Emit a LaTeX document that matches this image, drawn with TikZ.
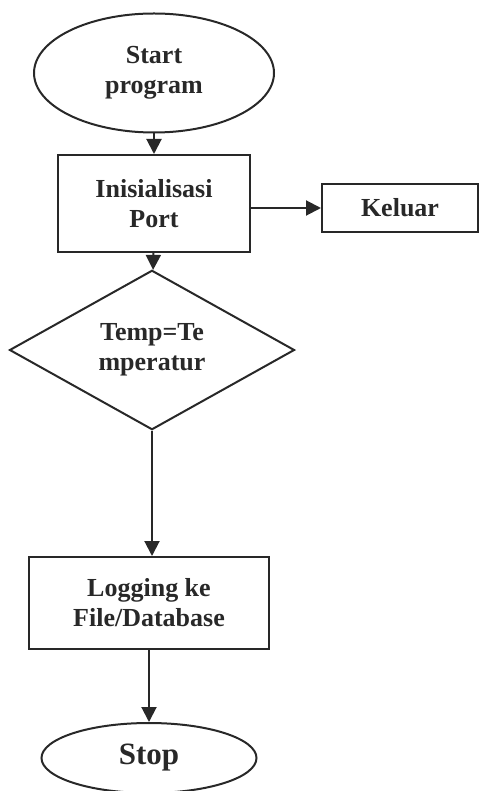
\documentclass[tikz,border=0pt]{standalone}
\usepackage{fontspec}
\setmainfont{Liberation Serif}
\usepackage{tikz}
\usetikzlibrary{arrows.meta,shapes.geometric}
\definecolor{inkgray}{RGB}{40,40,40}
\tikzset{
	flowline/.style={draw=inkgray, line width=2pt},
	arr/.style={flowline, -{Triangle[length=15pt,width=15pt]}},
	startstop/.style={ellipse, flowline, inner sep=0pt, align=center},
	procbox/.style={rectangle, flowline, inner sep=0pt, align=center},
	decision/.style={diamond, flowline, inner sep=0pt, align=center},
	lbl/.style={font=\fontsize{26}{30}\selectfont\bfseries, text=inkgray}
}

\begin{document}
\begin{tikzpicture}[x=1pt, y=-1pt]
		\useasboundingbox (0,0) rectangle (480,791);
		% Flow nodes
		\node[startstop, lbl, minimum width=240pt, minimum height=119pt] at (154, 73) (start) {Start\\program};
		\node[procbox, lbl, minimum width=192pt, minimum height=97pt] at (154, 203.5) (port) {Inisialisasi\\Port};
		\node[procbox, lbl, minimum width=156pt, minimum height=48pt] at (400, 208) (keluar) {Keluar};
		\node[decision, lbl, minimum width=285pt, minimum height=144pt] at (152, 350) (temp) {Temp=Te\\mperatur};
		\node[procbox, lbl, minimum width=240pt, minimum height=92pt] at (149, 603) (logging) {Logging ke\\File/Database};
		\node[startstop, lbl, font=\fontsize{31}{34}\selectfont\bfseries, minimum width=215pt, minimum height=70pt] at (149, 758) (stop) {Stop};
		% Connectors
		\draw[arr] (start) -- (port);
		\draw[arr] (keluar.west -| port.east) -- (keluar.west);
		\draw[arr] (port) -- (temp);
		\draw[arr] (temp.south) -- (temp.south |- logging.north);
		\draw[arr] (logging) -- (stop);
	\end{tikzpicture}
\end{document}
